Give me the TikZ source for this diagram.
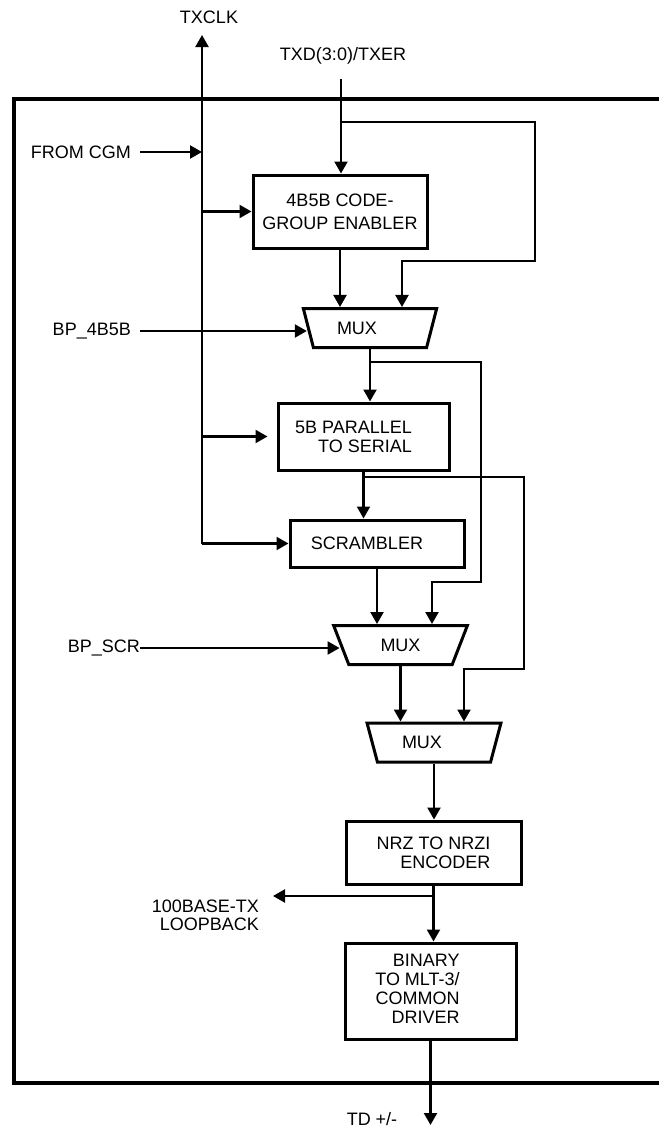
\documentclass[tikz,border=0pt]{standalone}
\usepackage{fontspec}
\setmainfont{Liberation Sans}
\usetikzlibrary{arrows.meta,shapes.geometric,calc}
\definecolor{ink}{HTML}{000000}
\newcommand{\rpad}[1]{\hspace*{#1pt}}
\tikzset{
  blk/.style={draw=ink,line width=3pt,text=ink,align=center,
    inner sep=2pt,font=\fontsize{18}{19}\selectfont},
  muxbox/.style={trapezium,trapezium angle=65,shape border rotate=180,
    trapezium stretches=true,draw=ink,line width=3pt,text=ink,
    minimum width=134pt,minimum height=39pt,inner sep=0pt,
    font=\fontsize{18}{19}\selectfont},
  sig/.style={font=\fontsize{18}{19}\selectfont,text=ink,inner sep=0pt},
  wire/.style={line width=2.2pt,draw=ink},
  arrow/.style={wire,-{Triangle[length=12pt,width=13pt]}},
  frame/.style={line width=3.2pt,draw=ink}
}

\begin{document}
\begin{tikzpicture}[x=1pt,y=-1pt]
\useasboundingbox (0,0) rectangle (659,1127);

% outer frame, open to the right
\draw[frame] (659,99) -- (14,99) -- (14,1083) -- (659,1083);

% Transmit chain
\node[blk,minimum width=174pt,minimum height=73pt,
  font=\fontsize{18}{23}\selectfont] (enabler) at (340,211.5)
  {4B5B CODE-\\GROUP ENABLER};
\node[muxbox] (mux1) at (370,328) {MUX\rpad{26}};
\node[blk,align=right,minimum width=171pt,minimum height=67pt] (para) at (363.5,436.5)
  {5B PARALLEL\rpad{20}\\TO SERIAL\rpad{20}};
\node[blk,minimum width=174pt,minimum height=47pt] (scr) at (377,543.5) {SCRAMBLER\rpad{20}};
\node[muxbox] (mux2) at (400.5,645) {MUX};
\node[muxbox] (mux3) at (434,742.5) {MUX\rpad{24}};
\node[blk,align=right,minimum width=175pt,minimum height=63pt] (nrz) at (433.5,852.5)
  {NRZ TO NRZI\\ENCODER};
\node[blk,minimum width=171pt,minimum height=96pt] (mlt) at (430.5,991)
  {\begin{tabular}{@{}r@{\rpad{26}}}BINARY\\TO MLT-3/\\COMMON\\DRIVER\end{tabular}};

% Pins and control inputs
\node[sig] (txclk) at (209,17) {TXCLK};
\node[sig] (txd) at (343,56) {TXD(3:0)/TXER};
\node[sig,anchor=east] (cgm) at (131,152) {FROM CGM};
\node[sig,anchor=east] (bp4b5b) at (131,331) {BP\_4B5B};
\node[sig,anchor=east] (bpscr) at (140,648) {BP\_SCR};
\node[sig,align=right,anchor=north east,font=\fontsize{18}{18}\selectfont]
  (loopback) at (259,900) {100BASE-TX\\LOOPBACK};
\node[sig] (td) at (372,1119) {TD +/-};

\coordinate (clktop) at (202,35);
\coordinate (txdin) at (341,79);
\coordinate (lbk) at (273,896);
\coordinate (tdout) at (432,1125);

% clock distribution
\draw[arrow] (clktop |- scr.west) -- (clktop);
\draw[arrow,shorten <=9pt] (cgm.east) -- (cgm.east -| clktop);
\draw[arrow] (clktop |- enabler.west) -- (enabler.west);
\draw[arrow,shorten >=9pt] (clktop |- para.west) -- (para.west);
\draw[arrow] (clktop |- scr.west) -- (scr.west);

% data path
\draw[arrow] (txdin) -- (txdin |- enabler.north);
\draw[arrow] (txdin |- 0,122) -- ++(194,0) -- ++(0,139) -| ([xshift=32pt]mux1.north);
\draw[arrow] (enabler.south) -- (enabler.south |- mux1.north);
\draw[arrow,shorten <=9pt] (bp4b5b.east) -- (bp4b5b.east -| mux1.west);
\draw[arrow] (mux1.south) -- (mux1.south |- para.north);
\draw[arrow] (mux1.south |- 0,362) -- ++(111,0) -- ++(0,220) -| ([xshift=31.5pt]mux2.north);
\draw[arrow] (para.south) -- (para.south |- scr.north);
\draw[arrow] (para.south |- 0,477) -- ++(160.5,0) -- ++(0,192) -| ([xshift=30pt]mux3.north);
\draw[arrow] (scr.south) -- (scr.south |- mux2.north);
\draw[arrow] (bpscr.east) -- (bpscr.east -| mux2.west);
\draw[arrow] (mux2.south) -- (mux2.south |- mux3.north);
\draw[arrow] (mux3.south) -- (mux3.south |- nrz.north);
\draw[arrow] (nrz.south) -- (nrz.south |- mlt.north);
\draw[arrow] (nrz.south |- lbk) -- (lbk);
\draw[arrow] (mlt.south) -- (mlt.south |- tdout);

\end{tikzpicture}
\end{document}
